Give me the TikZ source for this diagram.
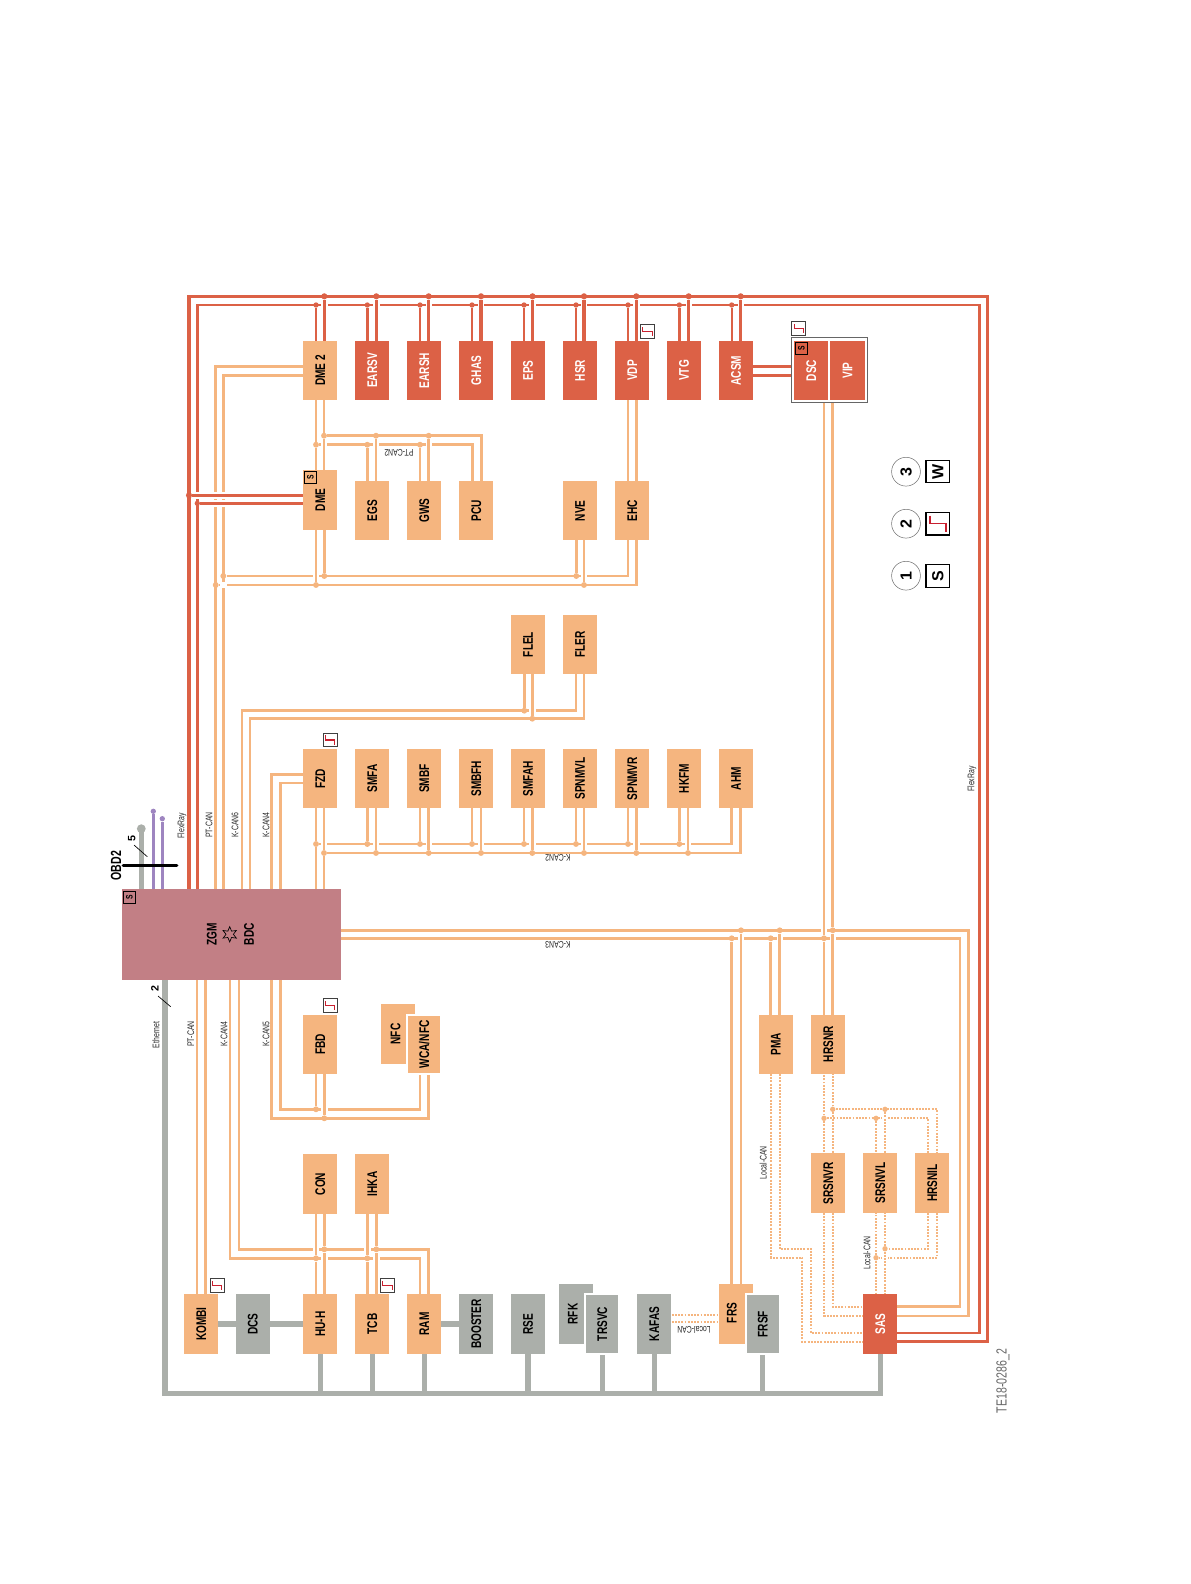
\documentclass[tikz,border=0pt]{standalone}
\usepackage{fontspec}
\usepackage{graphicx}
\usetikzlibrary{backgrounds,calc,shapes.geometric}
\setmainfont{Liberation Sans}
\newfontfamily\ecufont[FakeStretch=0.72]{Liberation Sans}
\definecolor{ecuorange}{HTML}{F5B57F}
\definecolor{ecured}{HTML}{DC6146}
\definecolor{ecugrey}{HTML}{ABAFAA}
\definecolor{gatepink}{HTML}{C27F85}
\definecolor{obdpurple}{HTML}{9E85C0}
\definecolor{stepred}{HTML}{C8202F}
\newcommand{\rt}[1]{\rotatebox{90}{#1}}
\tikzset{
ecu box/.style={
  minimum width=25.6pt,
  minimum height=44.6pt,
  inner sep=0pt,
  outer sep=0pt,
  font=\ecufont\bfseries\fontsize{10.5}{12}\selectfont
},
orange box/.style={ecu box, fill=ecuorange, text=black},
red box/.style={ecu box, fill=ecured, text=white},
grey box/.style={ecu box, fill=ecugrey, text=black},
front box/.style={draw=white, line width=1.6pt},
can wire/.style={draw=ecuorange, line width=2.1pt},
local wire/.style={draw=ecuorange, line width=1.5pt, dash pattern=on 1.4pt off 1pt},
flex wire/.style={draw=ecured, line width=2.4pt},
flex thin/.style={draw=ecured, line width=1.8pt},
eth wire/.style={draw=ecugrey, line width=4pt},
obd wire/.style={draw=obdpurple, line width=2.6pt},
tag line/.style={draw=black, line width=0.5pt},
can dot/.style={circle, fill=ecuorange, inner sep=0pt, minimum size=4.4pt},
local dot/.style={can dot, minimum size=4pt},
flex dot/.style={circle, fill=ecured, inner sep=0pt, minimum size=4.6pt},
bus label/.style={font=\ecufont\fontsize{7.2}{8}\selectfont, text=black!85, inner sep=0pt},
step box/.style={draw=black!75, fill=white, line width=0.7pt, minimum size=10.2pt, inner sep=0pt},
step line/.style={draw=stepred, line width=0.8pt},
tag box/.style={draw=black, line width=0.6pt, minimum size=9.2pt, inner sep=0pt, font=\ecufont\bfseries\fontsize{7}{8}\selectfont},
legend num/.style={circle, draw=black!55, line width=0.4pt, minimum size=21.6pt, inner sep=0pt, font=\bfseries\fontsize{12}{14}\selectfont},
legend key/.style={draw=black, line width=0.9pt, fill=white, minimum width=17.6pt, minimum height=17pt, inner sep=0pt, font=\bfseries\fontsize{12}{14}\selectfont}
}
\begin{document}
\begin{tikzpicture}[x=0.75pt,y=-0.75pt]
\useasboundingbox (0,0) rectangle (1190,1584);
% control units
\foreach \nm/\txt/\cx/\cy in {
  dmeb/DME 2/320.3/370.5, dme/DME/320.3/500, egs/EGS/372.2/510.7, gws/GWS/424.2/510.7,
  pcu/PCU/476.2/510.7, nve/NVE/580/510.7, ehc/EHC/632.3/510.7,
  flel/FLEL/528/644.5, fler/FLER/580/644.5,
  fzd/FZD/320.3/778.7, smfa/SMFA/372.2/778.7, smbf/SMBF/424.2/778.7, smbfh/SMBFH/476.2/778.7,
  smfah/SMFAH/528/778.7, spnmvl/SPNMVL/580/778.7, spnmvr/SPNMVR/632.3/778.7, hkfm/HKFM/684/778.7, ahm/AHM/736/778.7,
  fbd/FBD/320.3/1044.3, pma/PMA/775.7/1044.3, hrsnr/HRSNR/828.2/1044.3,
  con/CON/320.3/1184, ihka/IHKA/372.2/1184,
  srsnvr/SRSNVR/828.2/1183.2, srsnvl/SRSNVL/880.3/1183.2, hrsnil/HRSNIL/932.3/1183.2,
  kombi/KOMBI/201.3/1324, huh/HU-H/320.3/1324, tcb/TCB/372.2/1324, ram/RAM/424.2/1324}
  \node[orange box] (\nm) at (\cx,\cy) {\rt{\txt}};
\foreach \nm/\txt/\cx/\cy in {
  earsv/EARSV/372.2/370.5, earsh/EARSH/424.2/370.5, ghas/GHAS/476.2/370.5, eps/EPS/528/370.5,
  hsr/HSR/580/370.5, vdp/VDP/632.3/370.5, vtg/VTG/684/370.5, acsm/ACSM/736/370.5, sas/SAS/880.3/1324}
  \node[red box] (\nm) at (\cx,\cy) {\rt{\txt}};
\foreach \nm/\txt/\cx/\cy in {
  dcs/DCS/252.7/1324, booster/BOOSTER/476.2/1324, rse/RSE/528/1324, kafas/KAFAS/654.3/1324}
  \node[grey box] (\nm) at (\cx,\cy) {\rt{\txt}};
\node[draw=black!60, line width=0.8pt, minimum width=56.4pt, minimum height=48.4pt, inner sep=0pt, outer sep=0pt] (dscframe) at (829.5,370.2) {};
\node[red box] (dsc) at (811.3,370.5) {\rt{DSC}};
\node[red box] (vip) at (847.5,370.5) {\rt{VIP}};
% units partly hidden by their neighbour
\node[orange box] (nfc) at (397.8,1034.2) {};
\node[orange box, front box] (wca) at (424.2,1044.3) {\rt{WCA/NFC}};
\node[grey box] (rfk) at (575.7,1314) {};
\node[grey box, front box] (trsvc) at (602.3,1324) {\rt{TRSVC}};
\node[orange box] (frs) at (736,1314) {};
\node[grey box, front box] (frsf) at (762.8,1324) {\rt{FRSF}};
\node[ecu box] (nfctxt) at (395.5,1034) {\rt{NFC}};
\node[ecu box] (rfktxt) at (572.7,1314) {\rt{RFK}};
\node[ecu box] (frstxt) at (731.7,1313) {\rt{FRS}};
% central gateway
\node[fill=gatepink, minimum width=164.7pt, minimum height=68.2pt, inner sep=0pt, outer sep=0pt] (zgm) at (231.5,934.5) {};
\node[ecu box, minimum size=0pt] (zgmtxt) at (211.7,934.3) {\rt{ZGM}};
\node[ecu box, minimum size=0pt] (bdctxt) at (249,934.3) {\rt{BDC}};
\node[star, star points=6, star point ratio=2.1, draw=black, line width=0.5pt, minimum size=11.5pt, inner sep=0pt] (gatestar) at (229.7,934.3) {};
% bus corners
\coordinate (frA) at (189,296.3);
\coordinate (frB) at (987.7,296.3);
\coordinate (frC) at (197.3,305);
\coordinate (frD) at (979.3,305);
\coordinate (sasA) at (897,1341.7);
\coordinate (sasB) at (897,1333);
\coordinate (sasC) at (897,1316);
\coordinate (sasD) at (897,1306.7);
\coordinate (ptA) at (215.7,366.3);
\coordinate (ptB) at (223.3,375.3);
\coordinate (ptC) at (197,1100);
\coordinate (ptD) at (205.3,1100);
\coordinate (keA) at (242,710.7);
\coordinate (keB) at (576,710.7);
\coordinate (keC) at (250,718.7);
\coordinate (keD) at (584,718.7);
\coordinate (kfA) at (271.7,774.3);
\coordinate (kfB) at (280.7,783);
\coordinate (kaA) at (731.7,844);
\coordinate (kaB) at (740.7,853);
\coordinate (kcA) at (968.3,930.3);
\coordinate (kcB) at (960,938.3);
\coordinate (kgA) at (230,1258.3);
\coordinate (kgB) at (420,1258.3);
\coordinate (kgC) at (239,1249.3);
\coordinate (kgD) at (428.7,1249.3);
\coordinate (khA) at (271.7,1118.3);
\coordinate (khB) at (428.7,1118.3);
\coordinate (khC) at (280.7,1109.3);
\coordinate (khD) at (420,1109.3);
\coordinate (pcA) at (481.7,435.7);
\coordinate (pcB) at (472.7,444.7);
\coordinate (ptE) at (628,576);
\coordinate (ptF) at (636.7,585);
\coordinate (vdA) at (628,450);
\coordinate (vdB) at (636.3,450);
\coordinate (ethA) at (165,1393.7);
\coordinate (ethB) at (880.3,1393.7);
\coordinate (loA) at (771.3,1257.7);
\coordinate (loB) at (802.3,1257.7);
\coordinate (loC) at (802.3,1341.7);
\coordinate (loD) at (779.7,1248.7);
\coordinate (loE) at (811,1248.7);
\coordinate (loF) at (811,1333);
\coordinate (loG) at (824,1315.7);
\coordinate (loH) at (832.7,1306.7);
\coordinate (loI) at (928.3,1118.3);
\coordinate (loJ) at (937,1109.3);
\coordinate (loK) at (928.3,1248.7);
\coordinate (loL) at (937,1257.7);
\coordinate (loM) at (671.7,1314.7);
\coordinate (loN) at (671.7,1322);
\coordinate (obA) at (141.3,828.7);
\coordinate (obL) at (123.3,865.3);
\coordinate (obR) at (176.7,865.3);
\coordinate (acA) at (770,366.3);
\coordinate (acB) at (770,375.3);
% junctions
\foreach \nm/\cx/\cy in {
  pa1/324/435.7, pa2/376/435.7, pa3/428.7/435.7, pb1/316/444.7, pb2/367.3/444.7, pb3/420/444.7,
  ea1/223.3/576, ea2/324.3/576, ea3/576.3/576, eb1/215.7/585, eb2/316/585, eb3/584/585,
  fa/524.3/710.7, fb/532.3/718.7,
  ka1/316/844, ka2/367.3/844, ka3/420/844, ka4/472/844, ka5/524/844, ka6/576/844, ka7/628/844, ka8/679.3/844,
  kb1/324/853, kb2/376/853, kb3/428.7/853, kb4/481/853, kb5/532.3/853, kb6/584/853, kb7/636.3/853, kb8/688/853,
  la1/731.7/938.3, la2/770.7/938.3, la3/824/938.3, lb1/741/930.3, lb2/779.7/930.3, lb3/832.7/930.3,
  ma/316/1109.3, mb/324.3/1118.3, na1/316/1258.3, na2/367.3/1258.3, nb1/324.3/1249.3, nb2/376.3/1249.3}
  \node[can dot] (\nm) at (\cx,\cy) {};
\foreach \nm/\cx/\cy in {da1/832.7/1109.3, da2/885/1109.3, db1/824/1118.3, db2/876/1118.3, dc/885/1248.7, dd/876/1257.7}
  \node[local dot] (\nm) at (\cx,\cy) {};
\foreach \nm/\cx in {ra1/324.3, ra2/376.3, ra3/428.7, ra4/481, ra5/532.5, ra6/584, ra7/636.3, ra8/688.7, ra9/740.7}
  \node[flex dot] (\nm) at (\cx,296.3) {};
\foreach \nm/\cx in {rb1/316, rb2/367.3, rb3/420, rb4/472, rb5/524, rb6/576, rb7/628, rb8/679.3, rb9/731.7}
  \node[flex dot, minimum size=4pt] (\nm) at (\cx,305) {};
\node[flex dot] (rc) at (189,495.3) {};
\node[flex dot, minimum size=4pt] (rd) at (197.3,503.3) {};
\begin{scope}[on background layer]
% Ethernet
\draw[eth wire] (ethA |- zgm.south) -- (ethA) -- (ethB) -- (ethB |- sas.south);
\foreach \nm in {huh,tcb,ram,rse,trsvc,kafas,frsf}
  \draw[eth wire] (\nm.south) -- (\nm.south |- ethA);
\draw[eth wire] (kombi.east) -- (dcs.west);
\draw[eth wire] (dcs.east) -- (huh.west);
\draw[eth wire] (ram.east) -- (booster.west);
% CAN, runs along the page first
\draw[can wire] (ptA |- zgm.north) -- (ptA) -- (ptA -| dmeb.west);
\draw[can wire] (ptB |- zgm.north) -- (ptB) -- (ptB -| dmeb.west);
\draw[can wire] (keA |- zgm.north) -- (keA) -- (keB) -- (keB |- fler.south);
\draw[can wire] (keC |- zgm.north) -- (keC) -- (keD) -- (keD |- fler.south);
\draw[can wire] (kfA |- zgm.north) -- (kfA) -- (kfA -| fzd.west);
\draw[can wire] (kfB |- zgm.north) -- (kfB) -- (kfB -| fzd.west);
\draw[can wire] (ka1) -- (kaA) -- (kaA |- ahm.south);
\draw[can wire] (kb1) -- (kaB) -- (kaB |- ahm.south);
\draw[can wire] (kcA -| zgm.east) -- (kcA) -- (kcA |- sasC) -- (sasC);
\draw[can wire] (kcB -| zgm.east) -- (kcB) -- (kcB |- sasD) -- (sasD);
\draw[can wire] (ptC |- zgm.south) -- (ptC |- kombi.north);
\draw[can wire] (ptD |- zgm.south) -- (ptD |- kombi.north);
\draw[can wire] (kgA |- zgm.south) -- (kgA) -- (kgB) -- (kgB |- ram.north);
\draw[can wire] (kgC |- zgm.south) -- (kgC) -- (kgD) -- (kgD |- ram.north);
\draw[can wire] (khA |- zgm.south) -- (khA) -- (khB) -- (khB |- wca.south);
\draw[can wire] (khC |- zgm.south) -- (khC) -- (khD) -- (khD |- wca.south);
\draw[can wire] (pa1) -- (pcA) -- (pcA |- pcu.north);
\draw[can wire] (pb1) -- (pcB) -- (pcB |- pcu.north);
\draw[can wire] (ea1) -- (ptE) -- (ptE |- ehc.south);
\draw[can wire] (eb1) -- (ptF) -- (ptF |- ehc.south);
% white breaks where a wire passes another
\foreach \cx/\cy in {324/444.7, 376/444.7, 428.7/444.7, 223.3/585, 316/576, 584/576, 532.3/710.7,
  324/844, 376/844, 428.7/844, 481/844, 532.3/844, 584/844, 636.3/844, 688/844,
  824/930.3, 741/938.3, 779.7/938.3, 832.7/938.3, 324.3/1109.3, 324.3/1258.3, 376.3/1258.3, 316/1249.3, 367.3/1249.3,
  215.7/495.3, 223.3/495.3, 215.7/503.3, 223.3/503.3}
  \fill[white] ({\cx-3.2},{\cy-3.2}) rectangle ({\cx+3.2},{\cy+3.2});
\foreach \from/\to in {
  pa1/dmeb.south, pa1/dme.north, pb1/dmeb.south, pb1/dme.north,
  pa2/egs.north, pb2/egs.north, pa3/gws.north, pb3/gws.north,
  ea2/dme.south, eb2/dme.south, ea3/nve.south, eb3/nve.south,
  fa/flel.south, fb/flel.south,
  ka1/fzd.south, ka1/zgm.north, kb1/fzd.south, kb1/zgm.north,
  ka2/smfa.south, kb2/smfa.south, ka3/smbf.south, kb3/smbf.south, ka4/smbfh.south, kb4/smbfh.south,
  ka5/smfah.south, kb5/smfah.south, ka6/spnmvl.south, kb6/spnmvl.south, ka7/spnmvr.south, kb7/spnmvr.south,
  ka8/hkfm.south, kb8/hkfm.south,
  la1/frs.north, lb1/frs.north, la2/pma.north, lb2/pma.north,
  la3/dscframe.south, la3/hrsnr.north, lb3/dscframe.south, lb3/hrsnr.north,
  ma/fbd.south, mb/fbd.south,
  na1/con.south, na1/huh.north, nb1/con.south, nb1/huh.north,
  na2/ihka.south, na2/tcb.north, nb2/ihka.south, nb2/tcb.north}
  \draw[can wire] (\from) -- (\from |- \to);
\draw[can wire] (vdA |- vdp.south) -- (vdA |- ehc.north);
\draw[can wire] (vdB |- vdp.south) -- (vdB |- ehc.north);
% Local-CAN
\draw[local wire] (loM) -- (loM -| frs.west);
\draw[local wire] (loN) -- (loN -| frs.west);
\draw[local wire] (loA |- pma.south) -- (loA) -- (loB) -- (loC) -- (loC -| sas.west);
\draw[local wire] (loD |- pma.south) -- (loD) -- (loE) -- (loF) -- (loF -| sas.west);
\draw[local wire] (db1) -- (loI) -- (loI |- hrsnil.north);
\draw[local wire] (da1) -- (loJ) -- (loJ |- hrsnil.north);
\draw[local wire] (loK |- hrsnil.south) -- (loK) -- (dc);
\draw[local wire] (loL |- hrsnil.south) -- (loL) -- (dd);
\foreach \cx/\cy in {885/1118.3, 885/1257.7}
  \fill[white] ({\cx-3.2},{\cy-3.2}) rectangle ({\cx+3.2},{\cy+3.2});
\foreach \from/\to in {da1/hrsnr.south, da1/srsnvr.north, db1/hrsnr.south, db1/srsnvr.north,
  da2/srsnvl.north, db2/srsnvl.north, dc/srsnvl.south, dc/sas.north, dd/srsnvl.south, dd/sas.north}
  \draw[local wire] (\from) -- (\from |- \to);
\draw[local wire] (loG |- srsnvr.south) -- (loG) -- (loG -| sas.west);
\draw[local wire] (loH |- srsnvr.south) -- (loH) -- (loH -| sas.west);
% FlexRay
\draw[flex wire] (frA |- zgm.north) -- (frA) -- (frB) -- (frB |- sasA) -- (sasA);
\draw[flex thin] (frC |- zgm.north) -- (frC) -- (frD) -- (frD |- sasB) -- (sasB);
\foreach \cx in {324.3,376.3,428.7,481,532.5,584,636.3,688.7,740.7}
  \fill[white] ({\cx-3.2},301.8) rectangle ({\cx+3.2},308.2);
\fill[white] (194.1,492.1) rectangle (200.5,498.5);
\foreach \from/\to in {ra1/dmeb, ra2/earsv, ra3/earsh, ra4/ghas, ra5/eps, ra6/hsr, ra7/vdp, ra8/vtg, ra9/acsm}
  \draw[flex wire] (\from) -- (\from |- \to.north);
\foreach \from/\to in {rb1/dmeb, rb2/earsv, rb3/earsh, rb4/ghas, rb5/eps, rb6/hsr, rb7/vdp, rb8/vtg, rb9/acsm}
  \draw[flex thin] (\from) -- (\from |- \to.north);
\draw[flex wire] (rc) -- (rc -| dme.west);
\draw[flex wire] (rd) -- (rd -| dme.west);
\draw[flex thin] (acA -| acsm.east) -- (acA -| dscframe.west);
\draw[flex thin] (acB -| acsm.east) -- (acB -| dscframe.west);
\end{scope}
% OBD2 stubs
\draw[eth wire] (obA |- zgm.north) -- (obA);
\node[circle, fill=ecugrey, inner sep=0pt, minimum size=6.6pt] (obdgrey) at (obA) {};
\node[circle, fill=obdpurple, inner sep=0pt, minimum size=4pt] (obdp1) at (153.3,811.3) {};
\node[circle, fill=obdpurple, inner sep=0pt, minimum size=4pt] (obdp2) at (162.3,818.7) {};
\draw[obd wire] (obdp1) -- (obdp1 |- zgm.north);
\draw[obd wire] (obdp2) -- (obdp2 |- zgm.north);
\draw[draw=black, line width=2.7pt, line cap=round] (obL) -- (obR);
\coordinate (tgA) at (134,845);
\coordinate (tgB) at (147.3,856.7);
\coordinate (tgC) at (158,996);
\coordinate (tgD) at (170.7,1006.7);
\draw[tag line] (tgA) -- (tgB);
\draw[tag line] (tgC) -- (tgD);
% text
\node[ecu box, minimum size=0pt, font=\ecufont\bfseries\fontsize{11}{12}\selectfont] (obdtxt) at (116,865.7) {\rt{OBD2}};
\node[ecu box, minimum size=0pt, font=\bfseries\fontsize{8}{9}\selectfont] (fivetxt) at (131.7,839) {\rt{5}};
\node[ecu box, minimum size=0pt, font=\bfseries\fontsize{8}{9}\selectfont] (twotxt) at (155,989) {\rt{2}};
\foreach \nm/\txt/\cx/\cy in {
  lbfr/FlexRay/182/825.7, lbpt/PT-CAN/209/825, lbke/K-CAN6/235/825, lbkf/K-CAN4/266/825,
  lbeth/Ethernet/156/1035, lbptb/PT-CAN/190.7/1034, lbkg/K-CAN4/224/1034, lbkh/K-CAN5/266/1034,
  lbfrb/FlexRay/972/779, lblo/Local-CAN/763.3/1162.7, lblob/Local-CAN/867/1253}
  \node[bus label, rotate=90] (\nm) at (\cx,\cy) {\txt};
\foreach \nm/\txt/\cx/\cy in {
  lbpc/PT-CAN2/399/452.5, lbka/K-CAN2/558/858, lbkc/K-CAN3/558/945, lbloc/Local-CAN/694/1330}
  \node[bus label, rotate=180] (\nm) at (\cx,\cy) {\txt};
\node[font=\ecufont\fontsize{11}{12}\selectfont, text=black!60, inner sep=0pt, rotate=90] (docnum) at (1003,1381) {TE18-0286\_2};
% S and step marks
\foreach \nm/\cx/\cy in {tgdme/310.4/477.3, tgzgm/129.5/897.5, tgdsc/801.5/348.2}
  \node[tag box] (\nm) at (\cx,\cy) {\rt{S}};
\foreach \nm/\cx/\cy in {stfzd/330.2/740, stvdp/647.5/331.5, stdsc/798.7/328.7, stfbd/330.2/1005.3, stkombi/217.2/1285.3, sttcb/387.5/1285.3}{
  \node[step box] (\nm) at (\cx,\cy) {};
  \draw[step line] (\nm.center) ++(-4.6,-4.6) -- ++(0,4.6) -- ++(9.2,0) -- ++(0,4.6);
}
% legend
\node[legend num] (leg3) at (906,471.7) {\rt{3}};
\node[legend num] (leg2) at (906,523.7) {\rt{2}};
\node[legend num] (leg1) at (906,575.7) {\rt{1}};
\node[legend key] (key3) at (937.8,471.5) {\rt{W}};
\node[legend key] (key2) at (937.8,523.7) {};
\node[legend key] (key1) at (937.8,576) {\rt{S}};
\draw[step line, line width=1.1pt] (key2.center) ++(-8,-8) -- ++(0,8) -- ++(16,0) -- ++(0,8);
\end{tikzpicture}
\end{document}
